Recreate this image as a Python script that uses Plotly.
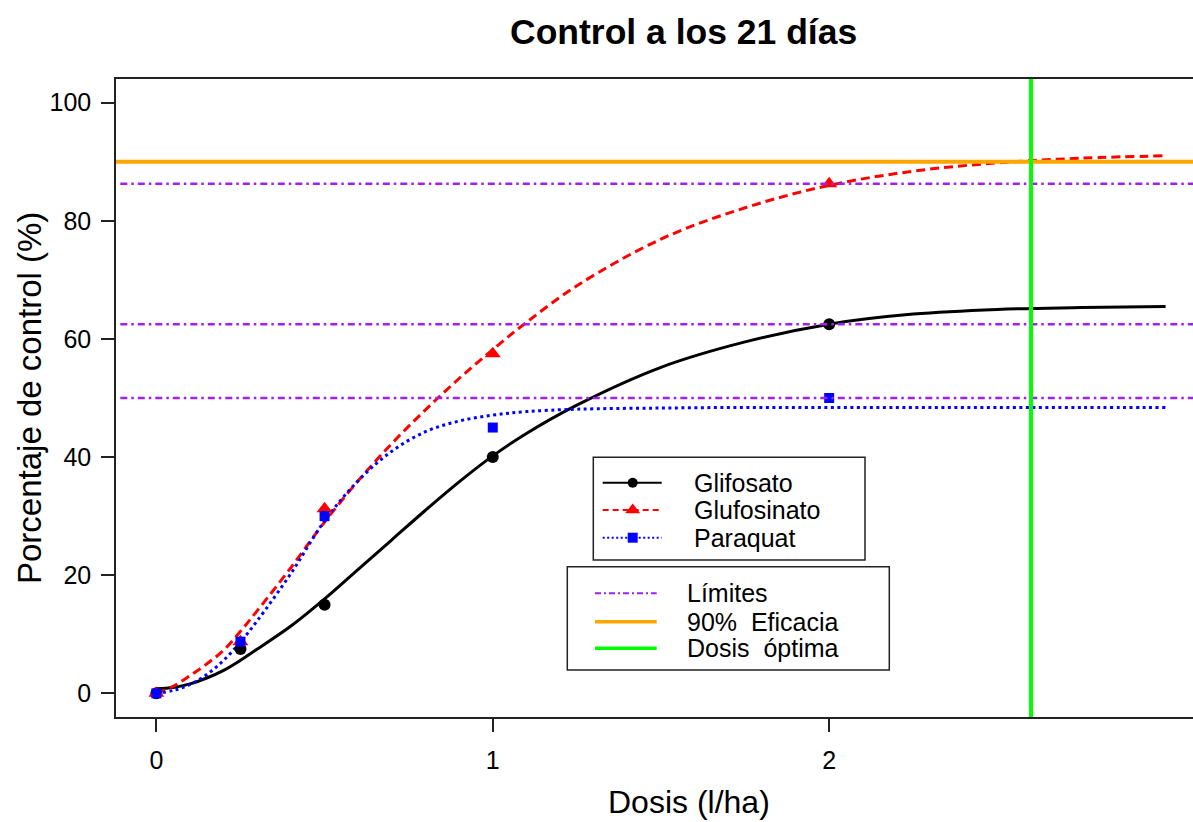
import plotly.graph_objects as go

# Observed control (%) at each dose (l/ha)
dosis = [0, 0.25, 0.5, 1, 2]
glifosato = [0, 7.5, 15, 40, 62.5]
glufosinato = [0, 8.75, 31.25, 57.5, 86.25]
paraquat = [0, 8.75, 30, 45, 50]

# Fitted dose-response curves
curva_x = [0, 0.05, 0.1, 0.15, 0.2, 0.25, 0.3, 0.4, 0.5, 0.6, 0.7, 0.8, 0.9,
           1.0, 1.1, 1.25, 1.5, 1.75, 2.0, 2.25, 2.5, 2.75, 3.0]
curva_glifosato = [0.8, 1.0, 1.6, 2.6, 3.9, 5.6, 7.5, 11.4, 16.0, 21.0, 26.0,
                   31.0, 35.8, 40.2, 44.0, 48.8, 55.2, 59.5, 62.5, 64.2, 65.0,
                   65.3, 65.5]
curva_glufosinato = [0.0, 1.2, 3.0, 5.0, 7.3, 10.5, 14.0, 21.3, 29.0, 36.0,
                     42.3, 48.0, 53.3, 58.2, 62.8, 69.0, 76.9, 82.2, 86.0,
                     88.4, 89.8, 90.6, 91.0]
curva_paraquat = [0.0, 0.5, 1.5, 3.2, 5.6, 8.7, 12.3, 20.3, 29.2, 36.0, 41.0,
                  44.3, 46.1, 47.1, 47.7, 48.1, 48.3, 48.4, 48.4, 48.4, 48.4,
                  48.4, 48.4]

# Reference lines
limites = [86.25, 62.5, 50]
eficacia = 90
dosis_optima = 2.6

x_ticks = [0, 1, 2]
y_ticks = [0, 20, 40, 60, 80, 100]

FONT = "Liberation Sans, Arial, Helvetica, sans-serif"
W, H = 1193, 822
L, R, T, B = 116, 0, 79, 105
PW, PH = W - L - R, H - T - B

def px(x):
    return (x - L) / PW

def py(y):
    return (H - B - y) / PH

series = [
    ("Glifosato", glifosato, curva_glifosato, "#000000", "solid", "circle", 12),
    ("Glufosinato", glufosinato, curva_glufosinato, "#FF0000", "9px,5px", "triangle-up", 14),
    ("Paraquat", paraquat, curva_paraquat, "#0000FF", "3px,3.5px", "square", 10),
]

fig = go.Figure()

for name, obs, curva, color, dash, symbol, size in series:
    fig.add_trace(go.Scatter(
        x=curva_x, y=curva, mode="lines", name=name,
        line=dict(color=color, width=3, dash=dash, shape="spline"),
        showlegend=False, hoverinfo="skip"))

for name, obs, curva, color, dash, symbol, size in series:
    fig.add_trace(go.Scatter(
        x=dosis, y=obs, mode="markers", name=name,
        marker=dict(color=color, symbol=symbol, size=size, line=dict(width=0)),
        showlegend=False))

# Horizontal and vertical reference lines
for v in limites:
    fig.add_shape(type="line", xref="paper", x0=0.004, x1=1, yref="y", y0=v, y1=v,
                  line=dict(color="#A020F0", width=2.5, dash="7px,4px,2.5px,4px"))
fig.add_shape(type="line", xref="paper", x0=0, x1=1, yref="y", y0=eficacia, y1=eficacia,
              line=dict(color="#FFA500", width=4))
fig.add_shape(type="line", xref="x", x0=dosis_optima, x1=dosis_optima, yref="paper", y0=0, y1=1,
              line=dict(color="#00FF00", width=4))

# Legend boxes drawn on a pixel-scaled overlay axis
leg1 = [("Glifosato", "#000000", "solid", "circle", 10, 482.7),
        ("Glufosinato", "#FF0000", "6px,4px", "triangle-up", 13, 510.0),
        ("Paraquat", "#0000FF", "2px,2.5px", "square", 10, 537.7)]
leg2 = [("Límites", "#A020F0", "6px,3px,2px,3px", 2, 593.3),
        ("90%\u00a0\u00a0Eficacia", "#FFA500", "solid", 3.5, 621.7),
        ("Dosis\u00a0\u00a0óptima", "#00FF00", "solid", 3.5, 648.3)]

for name, color, dash, symbol, size, yy in leg1:
    fig.add_trace(go.Scatter(
        x=[602.7, 632.7, 661.7], y=[yy, yy, yy], xaxis="x2", yaxis="y2",
        mode="lines", line=dict(color=color, width=2, dash=dash),
        showlegend=False, hoverinfo="skip"))
    fig.add_trace(go.Scatter(
        x=[632.7], y=[yy], xaxis="x2", yaxis="y2", mode="markers",
        marker=dict(color=color, symbol=symbol, size=size, line=dict(width=0)),
        showlegend=False, hoverinfo="skip"))
    fig.add_annotation(x=691.7, y=yy, xref="x2", yref="y2", text=name,
                       showarrow=False, xanchor="left", yanchor="middle",
                       font=dict(family=FONT, size=25, color="#000"))

for name, color, dash, width, yy in leg2:
    fig.add_trace(go.Scatter(
        x=[595, 656.7], y=[yy, yy], xaxis="x2", yaxis="y2",
        mode="lines", line=dict(color=color, width=width, dash=dash),
        showlegend=False, hoverinfo="skip"))
    fig.add_annotation(x=685, y=yy, xref="x2", yref="y2", text=name,
                       showarrow=False, xanchor="left", yanchor="middle",
                       font=dict(family=FONT, size=25, color="#000"))

fig.add_shape(type="rect", xref="x2", yref="y2", x0=593.3, x1=865, y0=457.3, y1=560,
              line=dict(color="#222", width=1.5))
fig.add_shape(type="rect", xref="x2", yref="y2", x0=567.3, x1=889.3, y0=566.7, y1=670,
              line=dict(color="#222", width=1.5))

# Titles
fig.add_annotation(x=px(683.5), y=py(32), xref="paper", yref="paper",
                   text="<b>Control a los 21 días</b>", showarrow=False,
                   xanchor="center", yanchor="middle",
                   font=dict(family=FONT, size=35.5, color="#000"))
fig.add_annotation(x=px(689), y=py(802), xref="paper", yref="paper",
                   text="Dosis (l/ha)", showarrow=False,
                   xanchor="center", yanchor="middle",
                   font=dict(family=FONT, size=32, color="#000"))
fig.add_annotation(x=px(29), y=py(398), xref="paper", yref="paper",
                   text="Porcentaje de control (%)", showarrow=False, textangle=-90,
                   xanchor="center", yanchor="middle",
                   font=dict(family=FONT, size=33, color="#000"))

axis_common = dict(showgrid=False, zeroline=False, showline=True, linecolor="#222",
                   linewidth=1.5, ticks="outside", ticklen=13, tickwidth=1.5,
                   tickcolor="#222", tickfont=dict(family=FONT, size=25, color="#000"))

fig.update_layout(
    width=W, height=H,
    margin=dict(l=L, r=R, t=T, b=B, pad=0),
    paper_bgcolor="white", plot_bgcolor="white",
    showlegend=False,
    xaxis=dict(range=[-0.12, 3.0815], tickvals=x_ticks, mirror=True,
               ticklabelstandoff=7, **axis_common),
    yaxis=dict(range=[-4, 104], tickvals=y_ticks, mirror=False,
               ticklabelstandoff=5, **axis_common),
    xaxis2=dict(overlaying="x", range=[L, W - R], visible=False, fixedrange=True),
    yaxis2=dict(overlaying="y", range=[H - B, T], visible=False, fixedrange=True),
)

fig.write_html("out.html")
